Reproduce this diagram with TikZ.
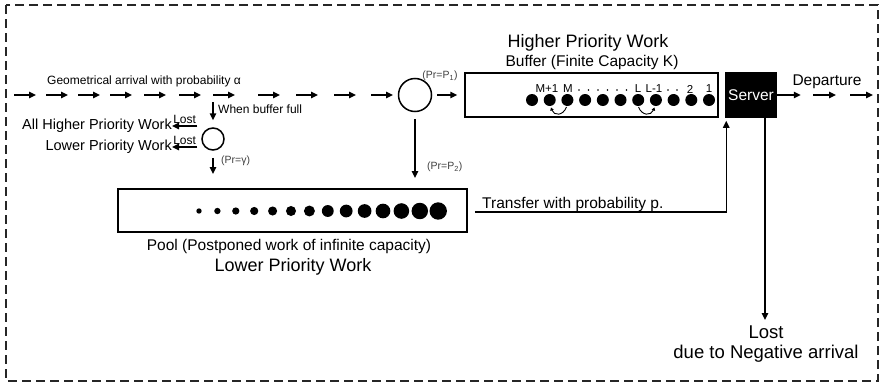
\documentclass[tikz,border=0pt]{standalone}
\usepackage{fontspec}
\setmainfont{Liberation Sans}
\usetikzlibrary{arrows.meta,calc}
\newcommand\myfs[1]{\fontsize{#1}{#1}\selectfont}
\tikzset{
  arr/.style={line width=1.5pt, -{Triangle[length=7pt,width=6.5pt]}},
  thinarr/.style={line width=0.9pt, -{Triangle[length=3pt,width=3.5pt]}},
  box/.style={draw, line width=1.5pt, rectangle, inner sep=0pt},
  ring/.style={draw, line width=1.5pt, circle, inner sep=0pt},
  txt/.style={inner sep=0pt, text=black},
  big/.style={txt, font=\myfs{18}},
  mid/.style={txt, font=\myfs{15.5}},
  small/.style={txt, font=\myfs{12}},
  tiny/.style={txt, font=\myfs{10.5}, text=black!75},
  lbl/.style={txt, font=\myfs{11.5}},
}
\begin{document}
\begin{tikzpicture}[x=1pt, y=-1pt]
\useasboundingbox (0,0) rectangle (882,383);
% border
\draw[line width=1.6pt, dash pattern=on 9pt off 5pt, black!85] (6,5) rectangle (878,381);

% main nodes
\node[ring, minimum size=33pt] (bigc) at (415,95) {};
\node[ring, minimum size=22pt] (smallc) at (213,139) {};
\node[box, minimum width=253pt, minimum height=44pt] (buffer) at (591.5,95) {};
\node[box, fill=black, minimum width=50pt, minimum height=44pt, text=white, font=\myfs{15.5}] (server) at (751,95) {Server};
\node[box, minimum width=349pt, minimum height=43pt] (pool) at (292.5,210.5) {};

% arrival arrows
\foreach \s in {14,46,78,110,144,179,213,258,296,334,371}
  \draw[arr] (\s,95) -- ++(22,0);
\node[small, anchor=west] (arrtxt) at (47,81) {Geometrical arrival with probability α};

% into buffer
\draw[arr, shorten <=5pt, shorten >=7pt] (bigc.east) -- (bigc.east -| buffer.west);
\node[tiny] (p1) at (440,76) {(Pr=P\textsubscript{1})};

% down from big circle
\coordinate (p2end) at (415,178);
\draw[arr, shorten <=7pt] (bigc.south) -- (p2end);
\node[tiny, anchor=west] (p2) at (427,167) {(Pr=P\textsubscript{2})};

% when buffer full
\coordinate (wbf) at (213,102);
\draw[arr, shorten >=7pt] (wbf) -- (smallc.north);
\node[small, anchor=west] (wbftxt) at (218,109) {When buffer full};

% lost arrows to the left
\node[txt, font=\myfs{14.5}, anchor=east] (allh) at (172,126) {All Higher Priority Work};
\node[txt, font=\myfs{14.5}, anchor=east] (lowp) at (172,147) {Lower Priority Work};
\draw[arr] ([xshift=-4pt]smallc.west |- allh.east) -- (allh.east)
  node[midway, above=1.5pt, txt, font=\myfs{12}] {Lost};
\draw[arr] ([xshift=-4pt]smallc.west |- lowp.east) -- (lowp.east)
  node[midway, above=1.5pt, txt, font=\myfs{12}] {Lost};

% gamma arrow
\coordinate (gend) at (213,174);
\draw[arr, shorten <=7pt] (smallc.south) -- (gend);
\node[tiny, anchor=west] (gam) at (221,161) {(Pr=γ)};

% buffer content
\node[big] (hpw) at (588,43) {Higher Priority Work};
\node[mid] (bft) at (592,62) {Buffer (Finite Capacity K)};
\foreach \i in {0,...,10}
  \fill ({532+17.7*\i},100) circle (6);
\node[lbl] (lm1) at (547,89) {M+1};
\node[lbl] (lm) at (568,89) {M};
\foreach \x in {579,588.5,598,607.5,617,626.5}
  \fill (\x,90) circle (0.8);
\node[lbl] (ll) at (638,89) {L};
\node[lbl] (ll1) at (654,89) {L-1};
\foreach \x in {668,677}
  \fill (\x,90) circle (0.8);
\node[lbl] (l2) at (690,89) {2};
\node[lbl] (l1) at (709,89) {1};
\draw[thinarr] (566.5,107) .. controls (563,116) and (554,116) .. (551,107.5);
\draw[thinarr] (638.5,107) .. controls (642,116) and (651,116) .. (654.5,107.5);

% server and departure
\draw[arr] (server.east) -- ++(24,0);
\draw[arr] (813,95) -- ++(23,0);
\draw[arr] (850,95) -- ++(23,0);
\node[mid] (dep) at (827,82) {Departure};

% lost due to negative arrival
\coordinate (lostend) at (765,320);
\draw[arr] ([xshift=14pt]server.south) -- (lostend);
\node[txt, font=\myfs{18.5}] (lost) at (766,332) {Lost};
\node[txt, font=\myfs{18.5}] (neg) at (766,354) {due to Negative arrival};

% pool content
\foreach \i in {0,...,13}
  \fill ({199+18.4*\i},211) circle ({2.7+6*\i/13});
\node[mid] (pooltxt) at (289,246) {Pool (Postponed work of infinite capacity)};
\node[big] (lpw) at (293,267) {Lower Priority Work};

% transfer
\draw[arr] ([xshift=7pt]pool.east |- 0,212) -| ([xshift=1pt,yshift=-3pt]server.south west);
\node[mid, anchor=base west] (trtxt) at (482,208) {Transfer with probability p.};
\end{tikzpicture}
\end{document}
